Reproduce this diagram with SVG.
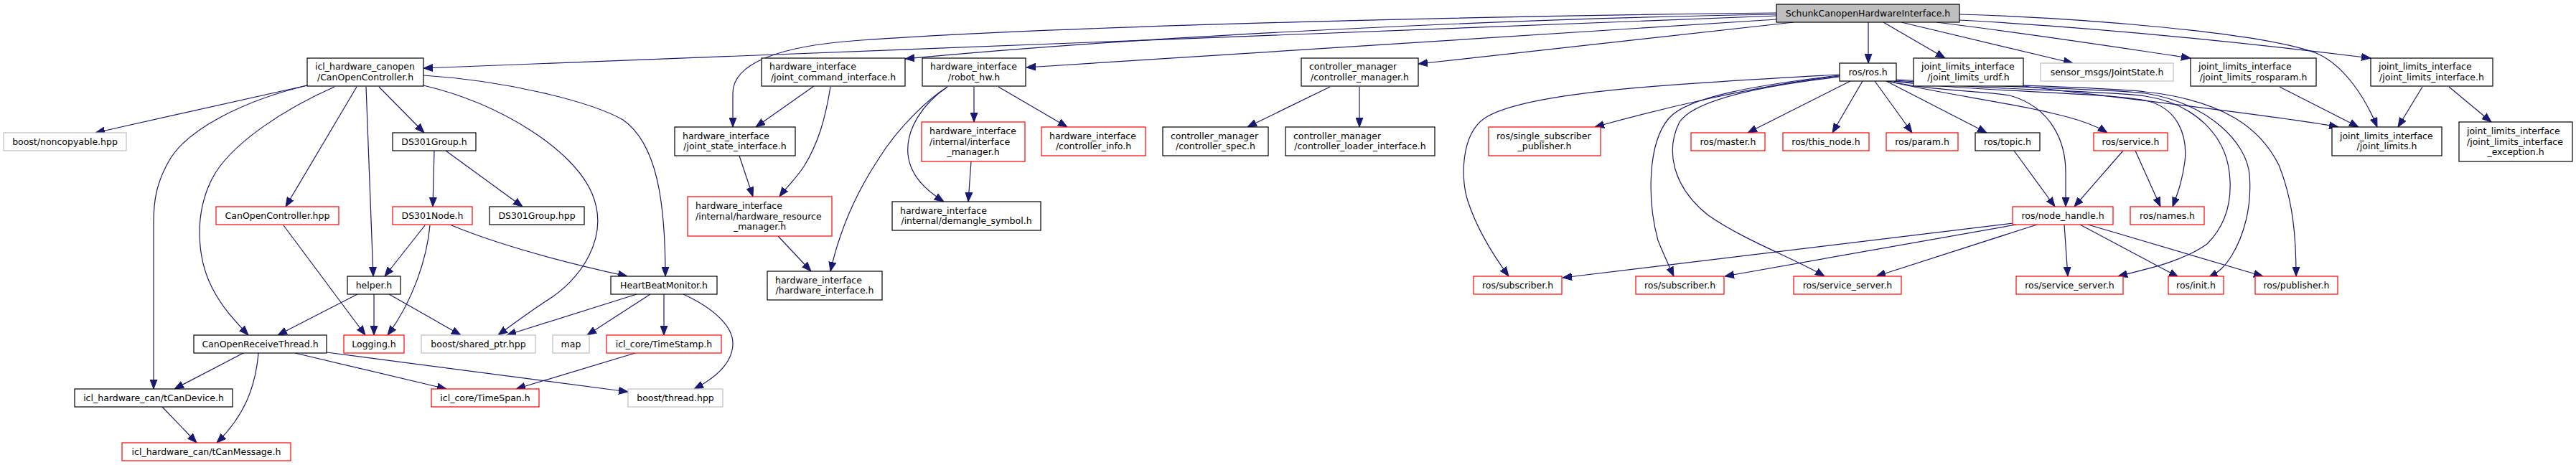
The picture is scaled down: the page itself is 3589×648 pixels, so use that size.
<svg xmlns="http://www.w3.org/2000/svg" width="3589" height="648" viewBox="0 0 3589 648">
<style>
.e{fill:none;stroke:#191970;stroke-width:1.2;marker-end:url(#ah)}
.nb{fill:#fff;stroke:#000;stroke-width:1.2}
.nr{fill:#fff;stroke:#ff0000;stroke-width:1.2}
.ng{fill:#fff;stroke:#bfbfbf;stroke-width:1.2}
.root{fill:#bfbfbf;stroke:#000;stroke-width:1.2}
text{font-family:"DejaVu Sans","Liberation Sans",sans-serif;font-size:12.5px;fill:#000}
.c{text-anchor:middle}
</style>
<defs>
<marker id="ah" viewBox="0 0 13 11" refX="13" refY="5.5" markerWidth="13" markerHeight="11" markerUnits="userSpaceOnUse" orient="auto">
<path d="M0,0.5 L13,5.5 L0,10.5 z" fill="#191970" stroke="#191970" stroke-width="1"/>
</marker>
</defs>
<rect x="0" y="0" width="3589" height="648" fill="#fff"/>
<g id="edges">
<path class="e" d="M2475,22 L590,95"/>
<path class="e" d="M2475,18 C2100,22 1500,35 1200,56 C1080,64 1021,90 1021,130 L1021,177"/>
<path class="e" d="M2475,20 C2100,26 1600,50 1261,82"/>
<path class="e" d="M2475,27 L1430,94"/>
<path class="e" d="M2499,31 L1976,89"/>
<path class="e" d="M2603,31 L2603,88"/>
<path class="e" d="M2624,31 L2710,81"/>
<path class="e" d="M2649,31 L2888,88"/>
<path class="e" d="M2698,31 C2850,50 2950,66 3052,81"/>
<path class="e" d="M2730,28 C2950,40 3150,62 3303,81"/>
<path class="e" d="M2730,20 C2900,25 3150,45 3227,74 C3265,90 3295,135 3312,177"/>
<path class="e" d="M428,119 L133,185"/>
<path class="e" d="M428,119 C340,140 260,180 235,225 C218,255 214,280 214,310 L214,542"/>
<path class="e" d="M466,121 C400,150 320,200 295,250 C270,300 275,360 295,400 C310,430 330,450 346,467"/>
<path class="e" d="M497,121 L398,288"/>
<path class="e" d="M510,121 L520,385"/>
<path class="e" d="M528,121 L591,185"/>
<path class="e" d="M590,105 C700,112 820,140 868,167 C915,200 927,280 927,385"/>
<path class="e" d="M590,119 C700,145 800,210 825,270 C850,330 810,390 760,420 C730,440 710,455 694,467"/>
<path class="e" d="M605,210 L603,288"/>
<path class="e" d="M621,210 L728,288"/>
<path class="e" d="M592,314 L536,385"/>
<path class="e" d="M599,314 C595,360 575,420 540,467"/>
<path class="e" d="M629,314 C680,335 760,360 874,385"/>
<path class="e" d="M395,314 L509,467"/>
<path class="e" d="M498,410 L387,467"/>
<path class="e" d="M521,410 L521,467"/>
<path class="e" d="M542,410 L642,467"/>
<path class="e" d="M339,492 L243,542"/>
<path class="e" d="M360,492 C356,540 340,580 302,617"/>
<path class="e" d="M411,492 L622,542"/>
<path class="e" d="M455,491 L875,546"/>
<path class="e" d="M226,567 L274,617"/>
<path class="e" d="M887,410 L706,467"/>
<path class="e" d="M906,410 L818,467"/>
<path class="e" d="M925,410 L925,467"/>
<path class="e" d="M952,410 C995,430 1022,455 1021,480 C1020,505 1000,525 967,542"/>
<path class="e" d="M885,492 L719,542"/>
<path class="e" d="M1134,120 L1053,177"/>
<path class="e" d="M1157,121 C1150,165 1140,200 1120,232 C1108,250 1095,262 1086,274"/>
<path class="e" d="M1030,217 L1049,274"/>
<path class="e" d="M1084,329 L1130,378"/>
<path class="e" d="M1320,121 C1290,140 1250,180 1225,220 C1195,265 1170,320 1157,378"/>
<path class="e" d="M1357,121 L1357,170"/>
<path class="e" d="M1391,121 L1487,177"/>
<path class="e" d="M1320,121 C1285,145 1262,180 1265,215 C1268,245 1290,265 1315,281"/>
<path class="e" d="M1353,225 L1349,281"/>
<path class="e" d="M1853,121 L1738,177"/>
<path class="e" d="M1894,121 L1894,177"/>
<path class="e" d="M2563,104 C2300,118 2120,130 2068,165 C2035,188 2035,250 2045,280 C2058,320 2080,355 2102,385"/>
<path class="e" d="M2563,106 C2450,118 2300,155 2222,177"/>
<path class="e" d="M2563,105 C2450,118 2350,135 2325,165 C2295,200 2295,280 2310,335 C2318,355 2325,370 2332,385"/>
<path class="e" d="M2563,107 C2450,120 2360,140 2340,170 C2320,210 2330,260 2380,300 C2430,335 2500,360 2542,385"/>
<path class="e" d="M2578,113 L2435,185"/>
<path class="e" d="M2595,113 L2553,185"/>
<path class="e" d="M2612,113 L2664,185"/>
<path class="e" d="M2628,113 L2768,185"/>
<path class="e" d="M2630,113 C2700,128 2760,126 2800,133 C2860,150 2878,200 2878,240 L2878,288"/>
<path class="e" d="M2630,113 C2700,130 2800,143 2860,158 C2900,167 2920,175 2936,185"/>
<path class="e" d="M2638,113 C2750,128 2920,128 2989,140 C3035,150 3048,190 3044,225 C3040,255 3033,272 3027,288"/>
<path class="e" d="M2640,113 C2760,125 2930,126 2989,134 C3060,145 3100,190 3106,240 C3112,290 3095,320 3075,340 C3040,365 2990,375 2951,385"/>
<path class="e" d="M2640,112 C2780,122 2950,124 2989,130 C3080,145 3130,200 3134,243 C3138,290 3125,330 3110,355 C3100,372 3090,380 3077,387"/>
<path class="e" d="M2642,111 C2800,120 2950,122 2989,128 C3100,140 3150,180 3175,230 C3195,280 3199,330 3199,385"/>
<path class="e" d="M2805,311 L2177,387"/>
<path class="e" d="M2809,313 L2403,385"/>
<path class="e" d="M2838,313 L2614,385"/>
<path class="e" d="M2876,313 L2881,385"/>
<path class="e" d="M2898,313 L3035,386"/>
<path class="e" d="M2909,313 L3153,385"/>
<path class="e" d="M2806,210 L2863,288"/>
<path class="e" d="M2958,210 L2890,288"/>
<path class="e" d="M2975,210 L3010,288"/>
<path class="e" d="M2819,120 C2900,130 3150,158 3258,177"/>
<path class="e" d="M3176,121 L3286,177"/>
<path class="e" d="M3375,121 L3341,177"/>
<path class="e" d="M3412,121 L3471,170"/>
</g>
<g id="n_schunk"><rect class="root" x="2475" y="6" width="255" height="25"/><text class="c" x="2602.5" y="22.5">SchunkCanopenHardwareInterface.h</text></g>
<g id="n_coc"><rect class="nb" x="428" y="81" width="162" height="39"/><text x="439" y="97.3">icl_hardware_canopen</text><text class="c" x="509" y="111.7">/CanOpenController.h</text></g>
<g id="n_jci"><rect class="nb" x="1061" y="81" width="200" height="39"/><text x="1072" y="97.3">hardware_interface</text><text class="c" x="1161" y="111.7">/joint_command_interface.h</text></g>
<g id="n_rhw"><rect class="nb" x="1285" y="81" width="144" height="39"/><text x="1296" y="97.3">hardware_interface</text><text class="c" x="1357" y="111.7">/robot_hw.h</text></g>
<g id="n_cm"><rect class="nb" x="1813" y="81" width="163" height="39"/><text x="1824" y="97.3">controller_manager</text><text class="c" x="1894.5" y="111.7">/controller_manager.h</text></g>
<g id="n_ros"><rect class="nb" x="2563" y="88" width="79" height="25"/><text class="c" x="2602.5" y="104.5">ros/ros.h</text></g>
<g id="n_urdf"><rect class="nb" x="2666" y="81" width="153" height="39"/><text x="2677" y="97.3">joint_limits_interface</text><text class="c" x="2742.5" y="111.7">/joint_limits_urdf.h</text></g>
<g id="n_sensor"><rect class="ng" x="2843" y="88" width="185" height="25"/><text class="c" x="2935.5" y="104.5">sensor_msgs/JointState.h</text></g>
<g id="n_rosparam"><rect class="nb" x="3052" y="81" width="175" height="39"/><text x="3063" y="97.3">joint_limits_interface</text><text class="c" x="3139.5" y="111.7">/joint_limits_rosparam.h</text></g>
<g id="n_jli"><rect class="nb" x="3303" y="81" width="170" height="39"/><text x="3314" y="97.3">joint_limits_interface</text><text class="c" x="3388" y="111.7">/joint_limits_interface.h</text></g>
<g id="n_noncopy"><rect class="ng" x="5" y="185" width="171" height="25"/><text class="c" x="90.5" y="201.5">boost/noncopyable.hpp</text></g>
<g id="n_ds301g"><rect class="nb" x="547" y="185" width="116" height="25"/><text class="c" x="605" y="201.5">DS301Group.h</text></g>
<g id="n_jsi"><rect class="nb" x="940" y="177" width="168" height="40"/><text x="951" y="193.8">hardware_interface</text><text class="c" x="1024" y="208.2">/joint_state_interface.h</text></g>
<g id="n_im"><rect class="nr" x="1284" y="170" width="144" height="55"/><text x="1295" y="187.1">hardware_interface</text><text x="1295" y="201.5">/internal/interface</text><text class="c" x="1356" y="215.9">_manager.h</text></g>
<g id="n_ci"><rect class="nr" x="1451" y="177" width="145" height="40"/><text x="1462" y="193.8">hardware_interface</text><text class="c" x="1523.5" y="208.2">/controller_info.h</text></g>
<g id="n_cs"><rect class="nb" x="1620" y="177" width="147" height="40"/><text x="1631" y="193.8">controller_manager</text><text class="c" x="1693.5" y="208.2">/controller_spec.h</text></g>
<g id="n_cli"><rect class="nb" x="1791" y="177" width="208" height="40"/><text x="1802" y="193.8">controller_manager</text><text class="c" x="1895" y="208.2">/controller_loader_interface.h</text></g>
<g id="n_ssp"><rect class="nr" x="2074" y="177" width="156" height="40"/><text x="2085" y="193.8">ros/single_subscriber</text><text class="c" x="2152" y="208.2">_publisher.h</text></g>
<g id="n_master"><rect class="nr" x="2356" y="185" width="103" height="25"/><text class="c" x="2407.5" y="201.5">ros/master.h</text></g>
<g id="n_thisnode"><rect class="nr" x="2484" y="185" width="120" height="25"/><text class="c" x="2544" y="201.5">ros/this_node.h</text></g>
<g id="n_param"><rect class="nr" x="2628" y="185" width="100" height="25"/><text class="c" x="2678" y="201.5">ros/param.h</text></g>
<g id="n_topic"><rect class="nb" x="2752" y="185" width="90" height="25"/><text class="c" x="2797" y="201.5">ros/topic.h</text></g>
<g id="n_service"><rect class="nr" x="2917" y="185" width="103" height="25"/><text class="c" x="2968.5" y="201.5">ros/service.h</text></g>
<g id="n_jl"><rect class="nb" x="3249" y="177" width="153" height="40"/><text x="3260" y="193.8">joint_limits_interface</text><text class="c" x="3325.5" y="208.2">/joint_limits.h</text></g>
<g id="n_exc"><rect class="nb" x="3426" y="170" width="158" height="55"/><text x="3437" y="187.1">joint_limits_interface</text><text x="3437" y="201.5">/joint_limits_interface</text><text class="c" x="3505" y="215.9">_exception.h</text></g>
<g id="n_cochpp"><rect class="nr" x="301" y="288" width="171" height="25"/><text class="c" x="386.5" y="304.5">CanOpenController.hpp</text></g>
<g id="n_ds301n"><rect class="nr" x="547" y="288" width="111" height="25"/><text class="c" x="602.5" y="304.5">DS301Node.h</text></g>
<g id="n_ds301ghpp"><rect class="nb" x="682" y="288" width="132" height="25"/><text class="c" x="748" y="304.5">DS301Group.hpp</text></g>
<g id="n_hrm"><rect class="nr" x="958" y="274" width="201" height="55"/><text x="969" y="291.1">hardware_interface</text><text x="969" y="305.5">/internal/hardware_resource</text><text class="c" x="1058.5" y="319.9">_manager.h</text></g>
<g id="n_dem"><rect class="nb" x="1243" y="281" width="207" height="40"/><text x="1254" y="297.8">hardware_interface</text><text class="c" x="1346.5" y="312.2">/internal/demangle_symbol.h</text></g>
<g id="n_nh"><rect class="nr" x="2804" y="288" width="140" height="25"/><text class="c" x="2874" y="304.5">ros/node_handle.h</text></g>
<g id="n_names"><rect class="nr" x="2968" y="288" width="103" height="25"/><text class="c" x="3019.5" y="304.5">ros/names.h</text></g>
<g id="n_helper"><rect class="nb" x="484" y="385" width="74" height="25"/><text class="c" x="521" y="401.5">helper.h</text></g>
<g id="n_hbm"><rect class="nb" x="851" y="385" width="148" height="25"/><text class="c" x="925" y="401.5">HeartBeatMonitor.h</text></g>
<g id="n_hwif"><rect class="nb" x="1069" y="378" width="160" height="40"/><text x="1080" y="394.8">hardware_interface</text><text class="c" x="1149" y="409.2">/hardware_interface.h</text></g>
<g id="n_sub1"><rect class="nr" x="2053" y="385" width="123" height="25"/><text class="c" x="2114.5" y="401.5">ros/subscriber.h</text></g>
<g id="n_sub2"><rect class="nr" x="2279" y="385" width="123" height="25"/><text class="c" x="2340.5" y="401.5">ros/subscriber.h</text></g>
<g id="n_ss1"><rect class="nr" x="2499" y="385" width="150" height="25"/><text class="c" x="2574" y="401.5">ros/service_server.h</text></g>
<g id="n_ss2"><rect class="nr" x="2809" y="385" width="149" height="25"/><text class="c" x="2883.5" y="401.5">ros/service_server.h</text></g>
<g id="n_init"><rect class="nr" x="3021" y="385" width="77" height="25"/><text class="c" x="3059.5" y="401.5">ros/init.h</text></g>
<g id="n_pub"><rect class="nr" x="3142" y="385" width="115" height="25"/><text class="c" x="3199.5" y="401.5">ros/publisher.h</text></g>
<g id="n_cort"><rect class="nb" x="270" y="467" width="185" height="25"/><text class="c" x="362.5" y="483.5">CanOpenReceiveThread.h</text></g>
<g id="n_logging"><rect class="nr" x="479" y="467" width="84" height="25"/><text class="c" x="521" y="483.5">Logging.h</text></g>
<g id="n_sharedptr"><rect class="ng" x="587" y="467" width="159" height="25"/><text class="c" x="666.5" y="483.5">boost/shared_ptr.hpp</text></g>
<g id="n_map"><rect class="ng" x="770" y="467" width="51" height="25"/><text class="c" x="795.5" y="483.5">map</text></g>
<g id="n_timestamp"><rect class="nr" x="845" y="467" width="160" height="25"/><text class="c" x="925" y="483.5">icl_core/TimeStamp.h</text></g>
<g id="n_tcandev"><rect class="nb" x="104" y="542" width="220" height="25"/><text class="c" x="214" y="558.5">icl_hardware_can/tCanDevice.h</text></g>
<g id="n_timespan"><rect class="nr" x="601" y="542" width="150" height="25"/><text class="c" x="676" y="558.5">icl_core/TimeSpan.h</text></g>
<g id="n_thread"><rect class="ng" x="875" y="542" width="132" height="25"/><text class="c" x="941" y="558.5">boost/thread.hpp</text></g>
<g id="n_tcanmsg"><rect class="nr" x="170" y="617" width="235" height="25"/><text class="c" x="287.5" y="633.5">icl_hardware_can/tCanMessage.h</text></g>
</svg>
